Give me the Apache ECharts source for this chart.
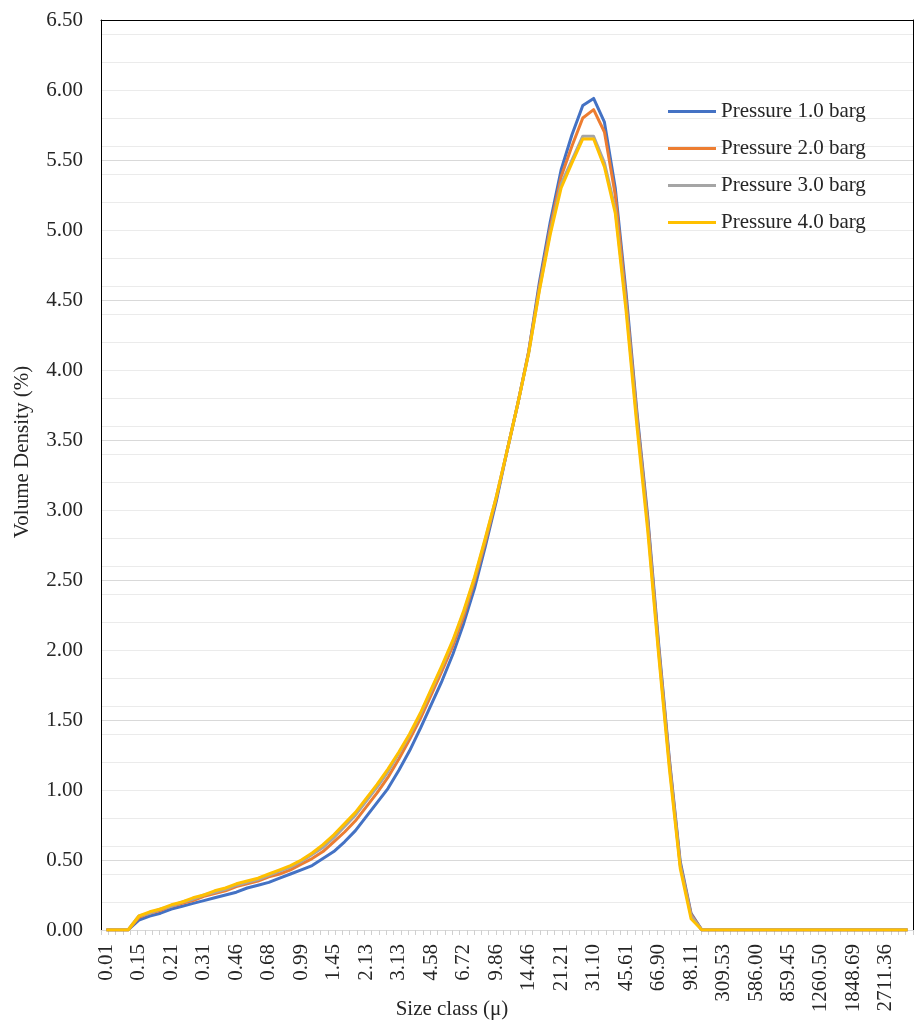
<!DOCTYPE html>
<html>
<head>
<meta charset="utf-8">
<script src="https://cdn.jsdelivr.net/npm/echarts@6/dist/echarts.min.js"></script>
<style>
  html, body { margin: 0; padding: 0; background: #ffffff; }
  #chart { width: 917px; height: 1023px; }
</style>
</head>
<body>
<div id="chart"></div>
<script>
// Size classes (µm) — every third one is labelled on the axis
const categories = [
  "0.01", "0.11", "0.13", "0.15", "0.17", "0.19", "0.21", "0.24", "0.28", "0.31",
  "0.36", "0.41", "0.46", "0.52", "0.59", "0.68", "0.77", "0.87", "0.99", "1.13",
  "1.28", "1.45", "1.65", "1.88", "2.13", "2.42", "2.75", "3.13", "3.55", "4.03",
  "4.58", "5.21", "5.92", "6.72", "7.64", "8.68", "9.86", "11.20", "12.73", "14.46",
  "16.43", "18.67", "21.21", "24.10", "27.38", "31.10", "35.34", "40.15", "45.61", "51.82",
  "58.88", "66.90", "76.01", "86.36", "98.11", "111.47", "126.65", "309.53", "399.54", "453.94",
  "586.00", "665.79", "756.45", "859.45", "976.48", "1109.44", "1260.50", "1432.13", "1627.14", "1848.69",
  "2100.42", "2386.41", "2711.36", "3080.56", "3500.00"
];

const seriesNames = ["Pressure 1.0 barg", "Pressure 2.0 barg", "Pressure 3.0 barg", "Pressure 4.0 barg"];

// Volume density (%) per size class
const pressure1 = [
  0, 0, 0, 0.07, 0.10, 0.12, 0.15, 0.17, 0.19, 0.21,
  0.23, 0.25, 0.27, 0.30, 0.32, 0.34, 0.37, 0.40, 0.43, 0.46,
  0.51, 0.56, 0.63, 0.71, 0.81, 0.91, 1.01, 1.14, 1.28, 1.44,
  1.61, 1.78, 1.97, 2.19, 2.44, 2.74, 3.06, 3.42, 3.76, 4.13,
  4.63, 5.06, 5.43, 5.68, 5.89, 5.94, 5.77, 5.30, 4.55, 3.70,
  2.95, 2.05, 1.22, 0.49, 0.12, 0, 0, 0, 0, 0,
  0, 0, 0, 0, 0, 0, 0, 0, 0, 0,
  0, 0, 0, 0, 0
];
const pressure2 = [
  0, 0, 0, 0.09, 0.12, 0.14, 0.17, 0.19, 0.21, 0.24,
  0.26, 0.28, 0.31, 0.33, 0.35, 0.38, 0.40, 0.43, 0.47, 0.51,
  0.56, 0.63, 0.70, 0.78, 0.88, 0.98, 1.09, 1.22, 1.36, 1.51,
  1.68, 1.85, 2.03, 2.24, 2.49, 2.77, 3.08, 3.42, 3.76, 4.13,
  4.60, 5.02, 5.38, 5.60, 5.80, 5.86, 5.70, 5.25, 4.50, 3.67,
  2.92, 2.02, 1.20, 0.47, 0.11, 0, 0, 0, 0, 0,
  0, 0, 0, 0, 0, 0, 0, 0, 0, 0,
  0, 0, 0, 0, 0
];
const pressure3 = [
  0, 0, 0, 0.10, 0.12, 0.15, 0.17, 0.20, 0.22, 0.25,
  0.27, 0.29, 0.32, 0.34, 0.36, 0.39, 0.42, 0.45, 0.49, 0.54,
  0.59, 0.66, 0.74, 0.82, 0.92, 1.02, 1.13, 1.26, 1.39, 1.54,
  1.71, 1.88, 2.06, 2.27, 2.51, 2.79, 3.09, 3.42, 3.76, 4.12,
  4.58, 4.99, 5.33, 5.50, 5.67, 5.67, 5.48, 5.15, 4.46, 3.64,
  2.89, 2.00, 1.18, 0.46, 0.10, 0, 0, 0, 0, 0,
  0, 0, 0, 0, 0, 0, 0, 0, 0, 0,
  0, 0, 0, 0, 0
];
const pressure4 = [
  0, 0, 0, 0.10, 0.13, 0.15, 0.18, 0.20, 0.23, 0.25,
  0.28, 0.30, 0.33, 0.35, 0.37, 0.40, 0.43, 0.46, 0.50, 0.55,
  0.61, 0.68, 0.76, 0.84, 0.94, 1.04, 1.15, 1.27, 1.40, 1.55,
  1.72, 1.89, 2.07, 2.28, 2.52, 2.80, 3.09, 3.42, 3.76, 4.12,
  4.57, 4.97, 5.30, 5.48, 5.65, 5.65, 5.45, 5.12, 4.42, 3.60,
  2.85, 1.97, 1.15, 0.44, 0.08, 0, 0, 0, 0, 0,
  0, 0, 0, 0, 0, 0, 0, 0, 0, 0,
  0, 0, 0, 0, 0
];
const seriesData = [pressure1, pressure2, pressure3, pressure4];
const colors = ["#4472C4", "#ED7D31", "#A5A5A5", "#FFC000"];

// Minor tick slots along the x axis (decorative tick marks only)
const tickSlotCount = 111;
const tickSlots = Array.from({ length: tickSlotCount }, () => "");

const FONT = "Liberation Serif";
const FS = 21;
const TEXT = "#262626";

const chart = echarts.init(document.getElementById("chart"), null, { renderer: "canvas" });

chart.setOption({
  animation: false,
  backgroundColor: "#ffffff",
  color: colors,
  grid: { left: 101, right: 4, top: 20, bottom: 93, containLabel: false, outerBoundsMode: "none" },
  legend: {
    data: seriesNames,
    orient: "vertical",
    left: 668,
    top: 101,
    padding: 0,
    icon: "rect",
    itemWidth: 48,
    itemHeight: 3,
    itemGap: 16,
    textStyle: { fontFamily: FONT, fontSize: FS, color: TEXT }
  },
  xAxis: [
    {
      type: "category",
      data: categories,
      boundaryGap: true,
      axisLine: { show: true, lineStyle: { color: "#d9d9d9", width: 1 } },
      axisTick: { show: false },
      splitLine: { show: false },
      axisLabel: {
        interval: 2,
        rotate: 90,
        margin: 14,
        fontFamily: FONT,
        fontSize: FS,
        color: TEXT
      },
      name: "Size class (μ)",
      nameLocation: "middle",
      nameGap: 69,
      nameMoveOverlap: false,
      nameTextStyle: { fontFamily: FONT, fontSize: FS, color: TEXT, padding: [0, 110, 0, 0] }
    },
    {
      type: "category",
      data: tickSlots,
      position: "bottom",
      boundaryGap: true,
      axisLine: { show: false },
      axisLabel: { show: false },
      splitLine: { show: false },
      axisTick: { show: true, interval: 0, length: 5, lineStyle: { color: "#d0d0d0", width: 1 } }
    },
    {
      type: "value",
      position: "top",
      min: 0,
      max: 1,
      axisLine: { show: true, onZero: false, lineStyle: { color: "#000000", width: 1 } },
      axisTick: { show: false },
      axisLabel: { show: false },
      splitLine: { show: false }
    }
  ],
  yAxis: [
    {
      type: "value",
      min: 0,
      max: 6.5,
      interval: 0.5,
      axisLine: { show: true, onZero: false, lineStyle: { color: "#000000", width: 1 } },
      axisTick: { show: false },
      axisLabel: {
        margin: 18,
        fontFamily: FONT,
        fontSize: FS,
        color: TEXT,
        formatter: (v) => v.toFixed(2)
      },
      splitLine: { show: true, lineStyle: { color: "#d9d9d9", width: 1 } },
      name: "Volume Density (%)",
      nameLocation: "middle",
      nameGap: 68,
      nameMoveOverlap: false,
      nameTextStyle: { fontFamily: FONT, fontSize: FS, color: TEXT, padding: [0, 0, 0, 46] }
    },
    {
      type: "value",
      min: 0,
      max: 6.5,
      interval: 0.2,
      position: "right",
      axisLine: { show: true, onZero: false, lineStyle: { color: "#000000", width: 1 } },
      axisTick: { show: false },
      axisLabel: { show: false },
      splitLine: { show: true, lineStyle: { color: "#ebebeb", width: 1 } }
    }
  ],
  series: seriesNames.map((name, i) => ({
    name: name,
    type: "line",
    xAxisIndex: 0,
    yAxisIndex: 0,
    data: seriesData[i],
    symbol: "none",
    showSymbol: false,
    smooth: false,
    z: 10 + i,
    lineStyle: { width: 3, color: colors[i], join: "round" },
    itemStyle: { color: colors[i] }
  }))
});
</script>
</body>
</html>
